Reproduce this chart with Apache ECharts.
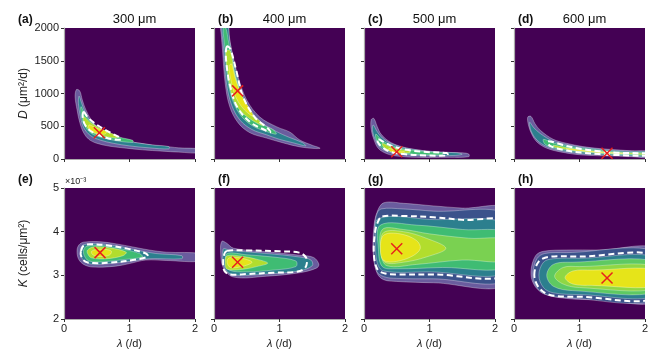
<!DOCTYPE html>
<html>
<head>
<meta charset="utf-8">
<script src="https://cdn.jsdelivr.net/npm/echarts@6/dist/echarts.min.js"></script>
<style>
  html, body { margin: 0; padding: 0; background: #fff; }
  #chart { width: 663px; height: 350px; }
</style>
</head>
<body>
<div id="chart"></div>
<script>
// panel headings
const sizeTitles = ["300 μm", "400 μm", "500 μm", "600 μm"];
const panelLetters = ["(a)", "(b)", "(c)", "(d)", "(e)", "(f)", "(g)", "(h)"];
const lambdaTicks = [0, 1, 2];
const dTicks = [0, 500, 1000, 1500, 2000];
const kTicks = [2, 3, 4, 5]; // x10^-3 cells/μm²

// contour levels, outer -> inner, as [λ, D] or [λ, K×1e3] outlines
const contoursA = [
  [[0.19, 1060], [0.24, 1040], [0.28, 900], [0.33, 760], [0.42, 590], [0.52, 480], [0.65, 380], [0.8, 310], [1.0, 265], [1.2, 235], [1.4, 205], [1.62, 185], [1.75, 170], [2.1, 150],
   [2.1, 95], [1.75, 105], [1.5, 120], [1.2, 140], [0.95, 165], [0.7, 195], [0.5, 240], [0.38, 300], [0.3, 400], [0.24, 560], [0.2, 750], [0.17, 950]],
  [[0.23, 960], [0.27, 850], [0.33, 700], [0.42, 560], [0.55, 450], [0.7, 360], [0.9, 290], [1.1, 250], [1.35, 215], [1.6, 190],
   [1.6, 155], [1.3, 170], [1.0, 200], [0.75, 240], [0.55, 290], [0.4, 360], [0.3, 480], [0.25, 650], [0.22, 850]],
  [[0.26, 800], [0.32, 680], [0.42, 560], [0.55, 460], [0.7, 380], [0.9, 320], [1.05, 285],
   [1.05, 255], [0.85, 270], [0.65, 310], [0.5, 350], [0.38, 420], [0.3, 540], [0.26, 700]],
  [[0.3, 650], [0.4, 560], [0.55, 470], [0.7, 400], [0.82, 350], [0.8, 320], [0.6, 350], [0.45, 400], [0.35, 480], [0.3, 580]],
  [[0.38, 520], [0.5, 470], [0.65, 420], [0.62, 380], [0.5, 390], [0.4, 430]]
];
const dashA = [[0.3, 720], [0.36, 640], [0.45, 560], [0.6, 460], [0.75, 380], [0.85, 330], [0.87, 300], [0.75, 300], [0.6, 340], [0.45, 400], [0.35, 480], [0.29, 600]];
const bestA = [0.54, 400];

const contoursB = [
  [[0.1, 2100], [0.11, 1900], [0.13, 1660], [0.17, 1160], [0.24, 800], [0.37, 550], [0.55, 400], [0.8, 320], [1.06, 245], [1.31, 185], [1.54, 160], [1.62, 165],
   [1.5, 210], [1.31, 290], [1.16, 410], [0.96, 490], [0.7, 640], [0.5, 900], [0.37, 1250], [0.27, 1660], [0.23, 1900], [0.21, 2100]],
  [[0.12, 2100], [0.15, 1660], [0.19, 1160], [0.27, 820], [0.4, 590], [0.58, 450], [0.8, 370], [1.0, 300], [1.2, 250], [1.4, 200],
   [1.35, 250], [1.15, 330], [0.95, 420], [0.72, 560], [0.52, 800], [0.4, 1100], [0.3, 1500], [0.24, 1800], [0.2, 2100]],
  [[0.14, 2000], [0.17, 1660], [0.21, 1200], [0.29, 880], [0.42, 650], [0.6, 500], [0.8, 420], [0.95, 380],
   [0.9, 450], [0.72, 540], [0.55, 720], [0.43, 950], [0.35, 1200], [0.28, 1500], [0.22, 1800], [0.18, 2000]],
  [[0.18, 1650], [0.22, 1250], [0.29, 920], [0.42, 720], [0.6, 580], [0.75, 510],
   [0.7, 580], [0.56, 690], [0.46, 860], [0.38, 1060], [0.31, 1320], [0.25, 1650]],
  [[0.23, 1420], [0.27, 1150], [0.33, 950], [0.42, 800], [0.52, 700], [0.6, 650], [0.56, 740], [0.47, 880], [0.39, 1050], [0.32, 1250], [0.27, 1450]]
];
const dashB = [[0.2, 1720], [0.18, 1600], [0.21, 1300], [0.25, 1100], [0.35, 800], [0.55, 565], [0.78, 440], [0.86, 410], [0.82, 470], [0.62, 640], [0.44, 960], [0.34, 1350], [0.25, 1680]];
const bestB = [0.36, 1040];

const contoursC = [
  [[0.11, 600], [0.15, 620], [0.2, 500], [0.26, 380], [0.38, 270], [0.55, 195], [0.75, 150], [1.05, 110], [1.3, 100], [1.5, 95], [1.6, 75], [1.6, 35],
   [1.3, 25], [0.8, 25], [0.5, 45], [0.35, 80], [0.22, 160], [0.15, 300], [0.11, 450]],
  [[0.14, 520], [0.2, 420], [0.28, 320], [0.4, 240], [0.6, 175], [0.85, 135], [1.1, 110], [1.4, 95], [1.5, 75],
   [1.4, 55], [1.0, 50], [0.6, 70], [0.4, 100], [0.25, 170], [0.17, 300], [0.13, 430]],
  [[0.18, 380], [0.25, 310], [0.35, 240], [0.5, 180], [0.7, 140], [0.95, 110], [1.2, 95],
   [1.2, 65], [0.9, 65], [0.6, 85], [0.4, 120], [0.27, 180], [0.19, 290]],
  [[0.28, 240], [0.4, 190], [0.55, 150], [0.7, 120], [0.7, 95], [0.55, 100], [0.4, 130], [0.3, 180]],
  [[0.38, 160], [0.5, 130], [0.62, 110], [0.6, 90], [0.48, 95], [0.38, 125]]
];
const dashC = [[0.22, 300], [0.3, 260], [0.45, 190], [0.65, 140], [0.9, 110], [1.26, 90], [1.28, 55], [0.95, 55], [0.6, 75], [0.4, 110], [0.28, 180], [0.21, 260]];
const bestC = [0.5, 112];

const contoursD = [
  [[0.21, 640], [0.26, 650], [0.32, 540], [0.4, 440], [0.6, 300], [0.8, 240], [1.05, 190], [1.3, 160], [1.57, 140], [1.8, 125], [2.1, 112],
   [2.1, 25], [1.8, 35], [1.5, 45], [1.05, 60], [0.75, 100], [0.5, 165], [0.35, 260], [0.27, 380], [0.22, 520]],
  [[0.24, 560], [0.3, 480], [0.4, 390], [0.6, 270], [0.85, 210], [1.1, 170], [1.4, 140], [1.7, 120], [2.1, 105],
   [2.1, 40], [1.7, 50], [1.3, 65], [1.0, 85], [0.7, 130], [0.5, 190], [0.35, 290], [0.26, 430]],
  [[0.45, 300], [0.6, 245], [0.85, 190], [1.1, 155], [1.4, 125], [1.7, 105], [2.1, 90],
   [2.1, 55], [1.7, 65], [1.4, 78], [1.1, 100], [0.85, 125], [0.6, 170], [0.47, 230]],
  [[0.6, 210], [0.85, 165], [1.1, 135], [1.4, 110], [1.7, 95], [2.1, 80], [2.1, 65], [1.7, 75], [1.4, 88], [1.1, 110], [0.85, 140], [0.62, 180]],
  [[0.8, 165], [1.1, 128], [1.45, 100], [1.7, 88], [1.7, 80], [1.45, 90], [1.1, 115], [0.82, 145]]
];
const dashD = [[0.52, 270], [0.8, 200], [1.05, 150], [1.3, 120], [1.6, 95], [2.2, 80], [2.2, 50], [1.6, 60], [1.3, 75], [1.05, 95], [0.8, 130], [0.55, 200]];
const bestD = [1.42, 87];

const contoursE = [
  [[0.2, 3.58], [0.23, 3.7], [0.3, 3.76], [0.55, 3.77], [0.8, 3.72], [1.05, 3.65], [1.3, 3.58], [1.56, 3.53], [2.1, 3.49],
   [2.1, 3.33], [1.56, 3.34], [1.25, 3.35], [1.0, 3.27], [0.79, 3.21], [0.44, 3.19], [0.3, 3.25], [0.22, 3.38]],
  [[0.25, 3.58], [0.3, 3.7], [0.55, 3.72], [0.85, 3.66], [1.1, 3.58], [1.4, 3.5], [1.8, 3.45],
   [1.8, 3.38], [1.3, 3.38], [1.0, 3.32], [0.7, 3.27], [0.4, 3.26], [0.28, 3.38]],
  [[0.3, 3.58], [0.35, 3.67], [0.6, 3.68], [0.9, 3.6], [1.15, 3.5], [1.2, 3.42], [0.9, 3.36], [0.6, 3.31], [0.38, 3.33], [0.31, 3.45]],
  [[0.36, 3.58], [0.45, 3.65], [0.7, 3.63], [0.95, 3.53], [0.9, 3.45], [0.65, 3.38], [0.42, 3.4], [0.36, 3.5]],
  [[0.42, 3.55], [0.55, 3.6], [0.72, 3.56], [0.7, 3.47], [0.55, 3.43], [0.44, 3.47]]
];
const dashE = [[0.26, 3.56], [0.3, 3.68], [0.4, 3.71], [0.7, 3.68], [1.0, 3.6], [1.25, 3.5], [1.28, 3.43], [1.05, 3.35], [0.7, 3.29], [0.45, 3.28], [0.32, 3.32], [0.26, 3.45]];
const bestE = [0.55, 3.52];

const contoursF = [
  [[0.12, 3.78], [0.19, 3.74], [0.3, 3.62], [0.8, 3.54], [1.31, 3.46], [1.52, 3.41], [1.6, 3.26], [1.57, 3.17], [1.31, 3.06], [0.8, 2.98], [0.3, 2.96], [0.14, 3.18], [0.1, 3.57]],
  [[0.14, 3.6], [0.25, 3.57], [0.8, 3.5], [1.3, 3.42], [1.48, 3.35], [1.5, 3.22], [1.3, 3.1], [0.8, 3.03], [0.3, 3.01], [0.17, 3.15]],
  [[0.2, 3.5], [0.5, 3.47], [0.9, 3.42], [1.25, 3.33], [1.25, 3.2], [0.9, 3.12], [0.5, 3.08], [0.23, 3.12], [0.18, 3.3]],
  [[0.2, 3.45], [0.45, 3.43], [0.65, 3.37], [0.82, 3.28], [0.65, 3.2], [0.45, 3.14], [0.2, 3.14], [0.17, 3.3]],
  [[0.23, 3.4], [0.4, 3.4], [0.58, 3.3], [0.42, 3.2], [0.25, 3.18], [0.2, 3.3]]
];
const dashF = [[0.2, 3.56], [0.5, 3.57], [1.0, 3.55], [1.3, 3.52], [1.4, 3.42], [1.42, 3.3], [1.38, 3.15], [1.25, 3.08], [0.9, 3.06], [0.5, 3.03], [0.25, 3.02], [0.16, 3.1], [0.14, 3.3], [0.16, 3.5]];
const bestF = [0.36, 3.30];

const contoursG = [
  [[0.3, 4.66], [0.6, 4.65], [1.06, 4.59], [1.5, 4.54], [2.2, 4.49], [2.2, 2.82], [1.06, 2.83], [0.5, 2.86], [0.3, 2.9], [0.2, 3.05], [0.14, 3.5], [0.15, 4.1], [0.2, 4.45]],
  [[0.26, 4.52], [0.6, 4.52], [1.06, 4.47], [2.2, 4.36], [2.2, 2.92], [1.06, 2.92], [0.5, 2.93], [0.3, 2.97], [0.19, 3.1], [0.15, 3.5], [0.16, 4.05], [0.19, 4.38]],
  [[0.22, 4.3], [1.0, 4.28], [2.2, 4.15], [2.2, 3.08], [1.0, 3.08], [0.3, 3.1], [0.2, 3.3], [0.18, 3.8]],
  [[0.25, 4.15], [0.8, 4.15], [1.5, 4.05], [2.2, 3.95], [2.2, 3.2], [1.2, 3.18], [0.5, 3.15], [0.28, 3.2], [0.22, 3.6]],
  [[0.28, 4.05], [0.6, 4.05], [1.0, 3.95], [1.6, 3.85], [2.2, 3.8], [2.2, 3.35], [1.5, 3.35], [0.8, 3.25], [0.35, 3.22], [0.26, 3.5]],
  [[0.3, 3.98], [0.6, 4.0], [0.95, 3.85], [1.25, 3.62], [0.95, 3.42], [0.6, 3.3], [0.32, 3.3], [0.26, 3.6]],
  [[0.3, 3.92], [0.55, 3.95], [0.8, 3.8], [0.86, 3.62], [0.75, 3.45], [0.5, 3.32], [0.3, 3.34], [0.25, 3.6]]
];
const dashG = [[0.28, 4.35], [0.6, 4.36], [1.06, 4.33], [1.5, 4.27], [2.2, 4.2], [2.2, 3.03], [1.06, 3.02], [0.5, 3.02], [0.3, 3.05], [0.2, 3.15], [0.15, 3.5], [0.17, 4.0], [0.22, 4.25]];
const bestG = [0.5, 3.61];

const contoursH = [
  [[0.26, 3.1], [0.33, 3.45], [0.45, 3.55], [0.8, 3.58], [1.3, 3.58], [2.2, 3.58], [2.2, 2.43], [1.3, 2.44], [0.8, 2.47], [0.45, 2.58], [0.3, 2.8]],
  [[0.29, 3.05], [0.35, 3.38], [0.47, 3.5], [0.8, 3.52], [2.2, 3.52], [2.2, 2.46], [0.8, 2.49], [0.47, 2.57], [0.33, 2.77]],
  [[0.38, 3.0], [0.45, 3.3], [0.6, 3.38], [1.0, 3.39], [2.2, 3.39], [2.2, 2.55], [1.0, 2.56], [0.6, 2.6], [0.45, 2.72]],
  [[0.5, 3.0], [0.6, 3.25], [0.9, 3.3], [2.2, 3.3], [2.2, 2.63], [0.9, 2.65], [0.6, 2.75]],
  [[0.62, 2.98], [0.75, 3.18], [1.0, 3.2], [2.2, 3.2], [2.2, 2.7], [1.0, 2.72], [0.75, 2.8]],
  [[0.78, 2.95], [0.9, 3.1], [1.2, 3.12], [2.2, 3.12], [2.2, 2.76], [1.2, 2.77], [0.9, 2.8]]
];
const dashH = [[0.31, 3.0], [0.37, 3.3], [0.52, 3.42], [1.0, 3.43], [2.2, 3.43], [2.2, 2.5], [1.0, 2.51], [0.55, 2.55], [0.38, 2.72]];
const bestH = [1.42, 2.94];

const allContours = [contoursA, contoursB, contoursC, contoursD, contoursE, contoursF, contoursG, contoursH];
const allDash = [dashA, dashB, dashC, dashD, dashE, dashF, dashG, dashH];
const allBest = [bestA, bestB, bestC, bestD, bestE, bestF, bestG, bestH];

// viridis-like fills, chosen by how many levels a panel has
const fills = {
  5: ["#6a5c9e", "#2c7f8e", "#3fbc73", "#b2dd2d", "#e6e419"],
  6: ["#6a5c9e", "#3b528b", "#2c7f8e", "#5ec962", "#8fd744", "#e6e419"],
  7: ["#6a5c9e", "#3b528b", "#2c7f8e", "#3fbc73", "#7ad151", "#b2dd2d", "#e6e419"]
};
const bg = "#440154";
const font = "Liberation Sans, Arial, sans-serif";
const lefts = [64, 214, 364, 514];
const tops = [28, 188];

const grids = [], xAxes = [], yAxes = [], series = [], titles = [];

for (let i = 0; i < 8; i += 1) {
  const row = Math.floor(i / 4);
  const col = i % 4;
  grids.push({
    left: lefts[col], top: tops[row], width: 131, height: 131,
    show: true, backgroundColor: bg, borderWidth: 0
  });
  xAxes.push({
    gridIndex: i, type: "value", min: lambdaTicks[0], max: lambdaTicks[2], interval: 1,
    axisLine: { lineStyle: { color: "#aaa", width: 1.2 } },
    axisTick: { show: true, length: 3, lineStyle: { color: "#333" } },
    axisLabel: { show: row === 1, color: "#222", fontSize: 11, fontFamily: font, margin: 4 },
    splitLine: { show: false },
    name: row === 1 ? "{i|λ} (/d)" : "",
    nameLocation: "middle", nameGap: 19,
    nameTextStyle: { color: "#222", fontSize: 11, fontFamily: font, rich: { i: { fontStyle: "italic", fontSize: 11, fontFamily: font, color: "#222" } } }
  });
  const ticks = row === 0 ? dTicks : kTicks;
  yAxes.push({
    gridIndex: i, type: "value", min: ticks[0], max: ticks[ticks.length - 1],
    interval: ticks[1] - ticks[0],
    axisLine: { lineStyle: { color: "#aaa", width: 1.2 } },
    axisTick: { show: true, length: 3, lineStyle: { color: "#333" } },
    axisLabel: { show: col === 0, color: "#222", fontSize: 11, fontFamily: font, margin: 5, formatter: (v) => String(v) },
    splitLine: { show: false },
    name: col === 0 ? (row === 0 ? "{i|D} (μm²/d)" : "{i|K} (cells/μm²)") : "",
    nameLocation: "middle", nameGap: 34,
    nameTextStyle: { color: "#222", fontSize: 12, fontFamily: font, rich: { i: { fontStyle: "italic", fontSize: 12, fontFamily: font, color: "#222" } } }
  });

  const polys = allContours[i];
  const palette = fills[polys.length];
  series.push({
    type: "custom", xAxisIndex: i, yAxisIndex: i, clip: true, silent: true,
    data: polys.map((p, k) => [k]),
    renderItem(params, api) {
      const pts = polys[params.dataIndex].map((p) => api.coord(p));
      return {
        type: "polygon",
        shape: { points: pts, smooth: 0.35 },
        style: { fill: palette[params.dataIndex], stroke: "rgba(255,255,255,0.45)", lineWidth: 0.7 }
      };
    }
  });
  const dash = allDash[i];
  series.push({
    type: "custom", xAxisIndex: i, yAxisIndex: i, clip: true, silent: true,
    data: [[0]],
    renderItem(params, api) {
      return {
        type: "polygon",
        shape: { points: dash.map((p) => api.coord(p)), smooth: 0.35 },
        style: { fill: null, stroke: "#fff", lineWidth: 2, lineDash: [6, 3.5] }
      };
    }
  });
  const best = allBest[i];
  series.push({
    type: "custom", xAxisIndex: i, yAxisIndex: i, silent: true,
    data: [best],
    renderItem(params, api) {
      const c = api.coord([api.value(0), api.value(1)]);
      const s = 5.5;
      const st = { stroke: "#e8201c", lineWidth: 1.5 };
      return {
        type: "group",
        children: [
          { type: "line", shape: { x1: c[0] - s, y1: c[1] - s, x2: c[0] + s, y2: c[1] + s }, style: st },
          { type: "line", shape: { x1: c[0] - s, y1: c[1] + s, x2: c[0] + s, y2: c[1] - s }, style: st }
        ]
      };
    }
  });

  titles.push({
    text: panelLetters[i], left: col === 0 ? 13 : lefts[col] - 1, top: row === 0 ? 9 : 169,
    textStyle: { fontSize: 12, fontWeight: "bold", color: "#111", fontFamily: font }
  });
}
sizeTitles.forEach((t, c) => {
  titles.push({
    text: t, left: lefts[c] + 65.5, top: 8, textAlign: "center",
    textStyle: { fontSize: 13, fontWeight: "normal", color: "#111", fontFamily: font }
  });
});

const chart = echarts.init(document.getElementById("chart"));
chart.setOption({
  animation: false,
  backgroundColor: "#fff",
  title: titles,
  grid: grids,
  xAxis: xAxes,
  yAxis: yAxes,
  series: series,
  graphic: [{
    type: "text", left: 65, top: 177,
    style: { text: "×10⁻³", fontSize: 9, fill: "#222", fontFamily: font }
  }]
});
</script>
</body>
</html>
